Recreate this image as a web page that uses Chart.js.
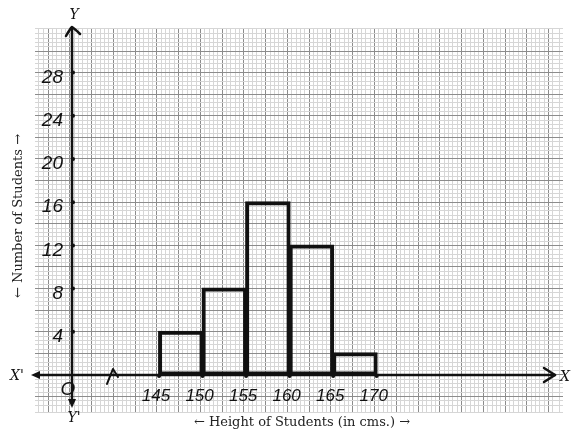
<!DOCTYPE html>
<html>
<head>
<meta charset="utf-8">
<script src="https://cdn.jsdelivr.net/npm/chart.js@4.4.1/dist/chart.umd.min.js"></script>
<style>
  html, body { margin: 0; padding: 0; background: #fff; }
  #wrap { width: 574px; height: 437px; }
</style>
</head>
<body>
<div id="wrap"><canvas id="grafico"></canvas></div>
<script>
// class limits (cm) and number of students per class
let classLimits = [145, 150, 155, 160, 165, 170];
let students = [4, 8, 16, 12, 2];

let xTicks = [145, 150, 155, 160, 165, 170];
let yTicks = [4, 8, 12, 16, 20, 24, 28];

// the x axis is broken: the origin stands for 135
let xOrigin = 135;

let xTitle = "\u2190 Height of Students (in cms.) \u2192";
let yTitle = "\u2190 Number of Students \u2192";

let hand = 'italic 19px "Liberation Sans"';
let serif = '"DejaVu Serif", "Liberation Serif", serif';

let xMin = 130.75, xMax = 191.4;

function isMajor(c, step) {
  if (!c.tick) return false;
  let r = c.tick.value / step;
  return Math.abs(r - Math.round(r)) < 1e-6;
}

// AXES, ARROWS, LABELS
const paperAxes = {
  id: "paperAxes",
  afterDraw(chart) {
    const { ctx, chartArea, scales } = chart;
    const x = scales.x, y = scales.y;
    const x0 = x.getPixelForValue(xOrigin);
    const y0 = y.getPixelForValue(0);

    ctx.save();
    ctx.strokeStyle = "#111";
    ctx.fillStyle = "#111";
    ctx.lineWidth = 2.5;
    ctx.lineCap = "round";
    ctx.lineJoin = "round";

    let xl = chartArea.left - 4, xr = chartArea.right - 8;
    let yt = chartArea.top - 1, yb = chartArea.bottom - 4;

    // x axis
    ctx.beginPath();
    ctx.moveTo(xl + 6, y0);
    ctx.lineTo(xr, y0);
    ctx.stroke();
    ctx.beginPath();
    ctx.moveTo(xr - 11, y0 - 7);
    ctx.lineTo(xr, y0);
    ctx.lineTo(xr - 11, y0 + 7);
    ctx.stroke();
    ctx.beginPath();
    ctx.moveTo(xl, y0);
    ctx.lineTo(xl + 9, y0 - 4);
    ctx.lineTo(xl + 9, y0 + 4);
    ctx.closePath();
    ctx.fill();

    // y axis
    ctx.beginPath();
    ctx.moveTo(x0, yt + 1);
    ctx.lineTo(x0, yb - 6);
    ctx.stroke();
    ctx.beginPath();
    ctx.moveTo(x0 - 6, yt + 9);
    ctx.quadraticCurveTo(x0 - 2, yt + 2, x0, yt);
    ctx.quadraticCurveTo(x0 + 3, yt + 2, x0 + 8, yt + 7);
    ctx.stroke();
    ctx.beginPath();
    ctx.moveTo(x0, yb);
    ctx.lineTo(x0 - 4, yb - 9);
    ctx.lineTo(x0 + 4, yb - 9);
    ctx.closePath();
    ctx.fill();

    // break mark on x axis
    ctx.lineWidth = 2;
    ctx.beginPath();
    ctx.moveTo(x0 + 35, y0 + 9);
    ctx.lineTo(x0 + 41, y0 - 6);
    ctx.lineTo(x0 + 46, y0 + 2);
    ctx.stroke();

    // tick dots
    yTicks.forEach(function (v) {
      ctx.beginPath();
      ctx.arc(x0 + 1, y.getPixelForValue(v), 2, 0, Math.PI * 2);
      ctx.fill();
    });
    xTicks.forEach(function (v) {
      ctx.beginPath();
      ctx.arc(x.getPixelForValue(v), y0 + 1, 2, 0, Math.PI * 2);
      ctx.fill();
    });

    // hand written numbers
    ctx.font = hand;
    ctx.textBaseline = "middle";
    ctx.textAlign = "right";
    yTicks.forEach(function (v) {
      ctx.fillText(String(v), x0 - 9, y.getPixelForValue(v) + 5);
    });
    ctx.textAlign = "center";
    ctx.font = 'italic 17px "Liberation Sans"';
    xTicks.forEach(function (v) {
      ctx.fillText(String(v), x.getPixelForValue(v) - 3, y0 + 21);
    });
    ctx.font = hand;
    ctx.fillText("O", x0 - 4, y0 + 15);

    // axis names
    ctx.font = "italic 14px " + serif;
    ctx.fillText("X'", xl - 14, y0 + 1);
    ctx.fillText("X", xr + 10, y0 + 2);
    ctx.fillText("Y", x0 + 2, yt - 12);
    ctx.fillText("Y'", x0 + 2, yb + 10);

    // titles
    ctx.fillStyle = "#222";
    ctx.font = "13px " + serif;
    ctx.fillText(xTitle, 302, chartArea.bottom + 11);
    ctx.translate(19, 216);
    ctx.rotate(-Math.PI / 2);
    ctx.fillText(yTitle, 0, 0);

    ctx.restore();
  }
};

let dados = [];
for (let i = 0; i < students.length; i++) {
  dados.push({ x: (classLimits[i] + classLimits[i + 1]) / 2, y: students[i] });
}

let ctx = document.getElementById("grafico").getContext("2d");

let grafico = new Chart(ctx, {
  type: "bar",
  data: {
    datasets: [{
      data: dados,
      backgroundColor: "rgba(0,0,0,0)",
      borderColor: "#111",
      borderWidth: 2,
      borderSkipped: false,
      inflateAmount: 1,
      barPercentage: 1,
      categoryPercentage: 1
    }]
  },
  options: {
    responsive: true,
    maintainAspectRatio: false,
    animation: false,
    layout: { padding: { left: 35, right: 11, top: 28, bottom: 25 } },
    plugins: {
      legend: { display: false },
      tooltip: { enabled: false }
    },
    scales: {
      // scale the bars sit on: its ticks are the class limits
      x: {
        type: "linear",
        offset: false,
        min: xMin,
        max: xMax,
        afterBuildTicks: function (scale) {
          scale.ticks = classLimits.map(function (v) { return { value: v }; });
        },
        ticks: { display: false },
        border: { display: false },
        grid: { display: false, drawTicks: false }
      },
      // graph paper
      xPaper: {
        type: "linear",
        position: "bottom",
        offset: false,
        min: xMin,
        max: xMax,
        ticks: { display: false, stepSize: 0.5 },
        border: { display: false },
        grid: {
          drawTicks: false,
          color: function (c) {
            return isMajor(c, 2.5) ? "#8c8c8c" : "#d6d6d6";
          }
        }
      },
      y: {
        min: -3.43,
        max: 32.13,
        ticks: { display: false, stepSize: 0.4 },
        border: { display: false },
        grid: {
          drawTicks: false,
          color: function (c) {
            return isMajor(c, 2) ? "#8c8c8c" : "#d6d6d6";
          }
        }
      }
    }
  },
  plugins: [paperAxes]
});
</script>
</body>
</html>
